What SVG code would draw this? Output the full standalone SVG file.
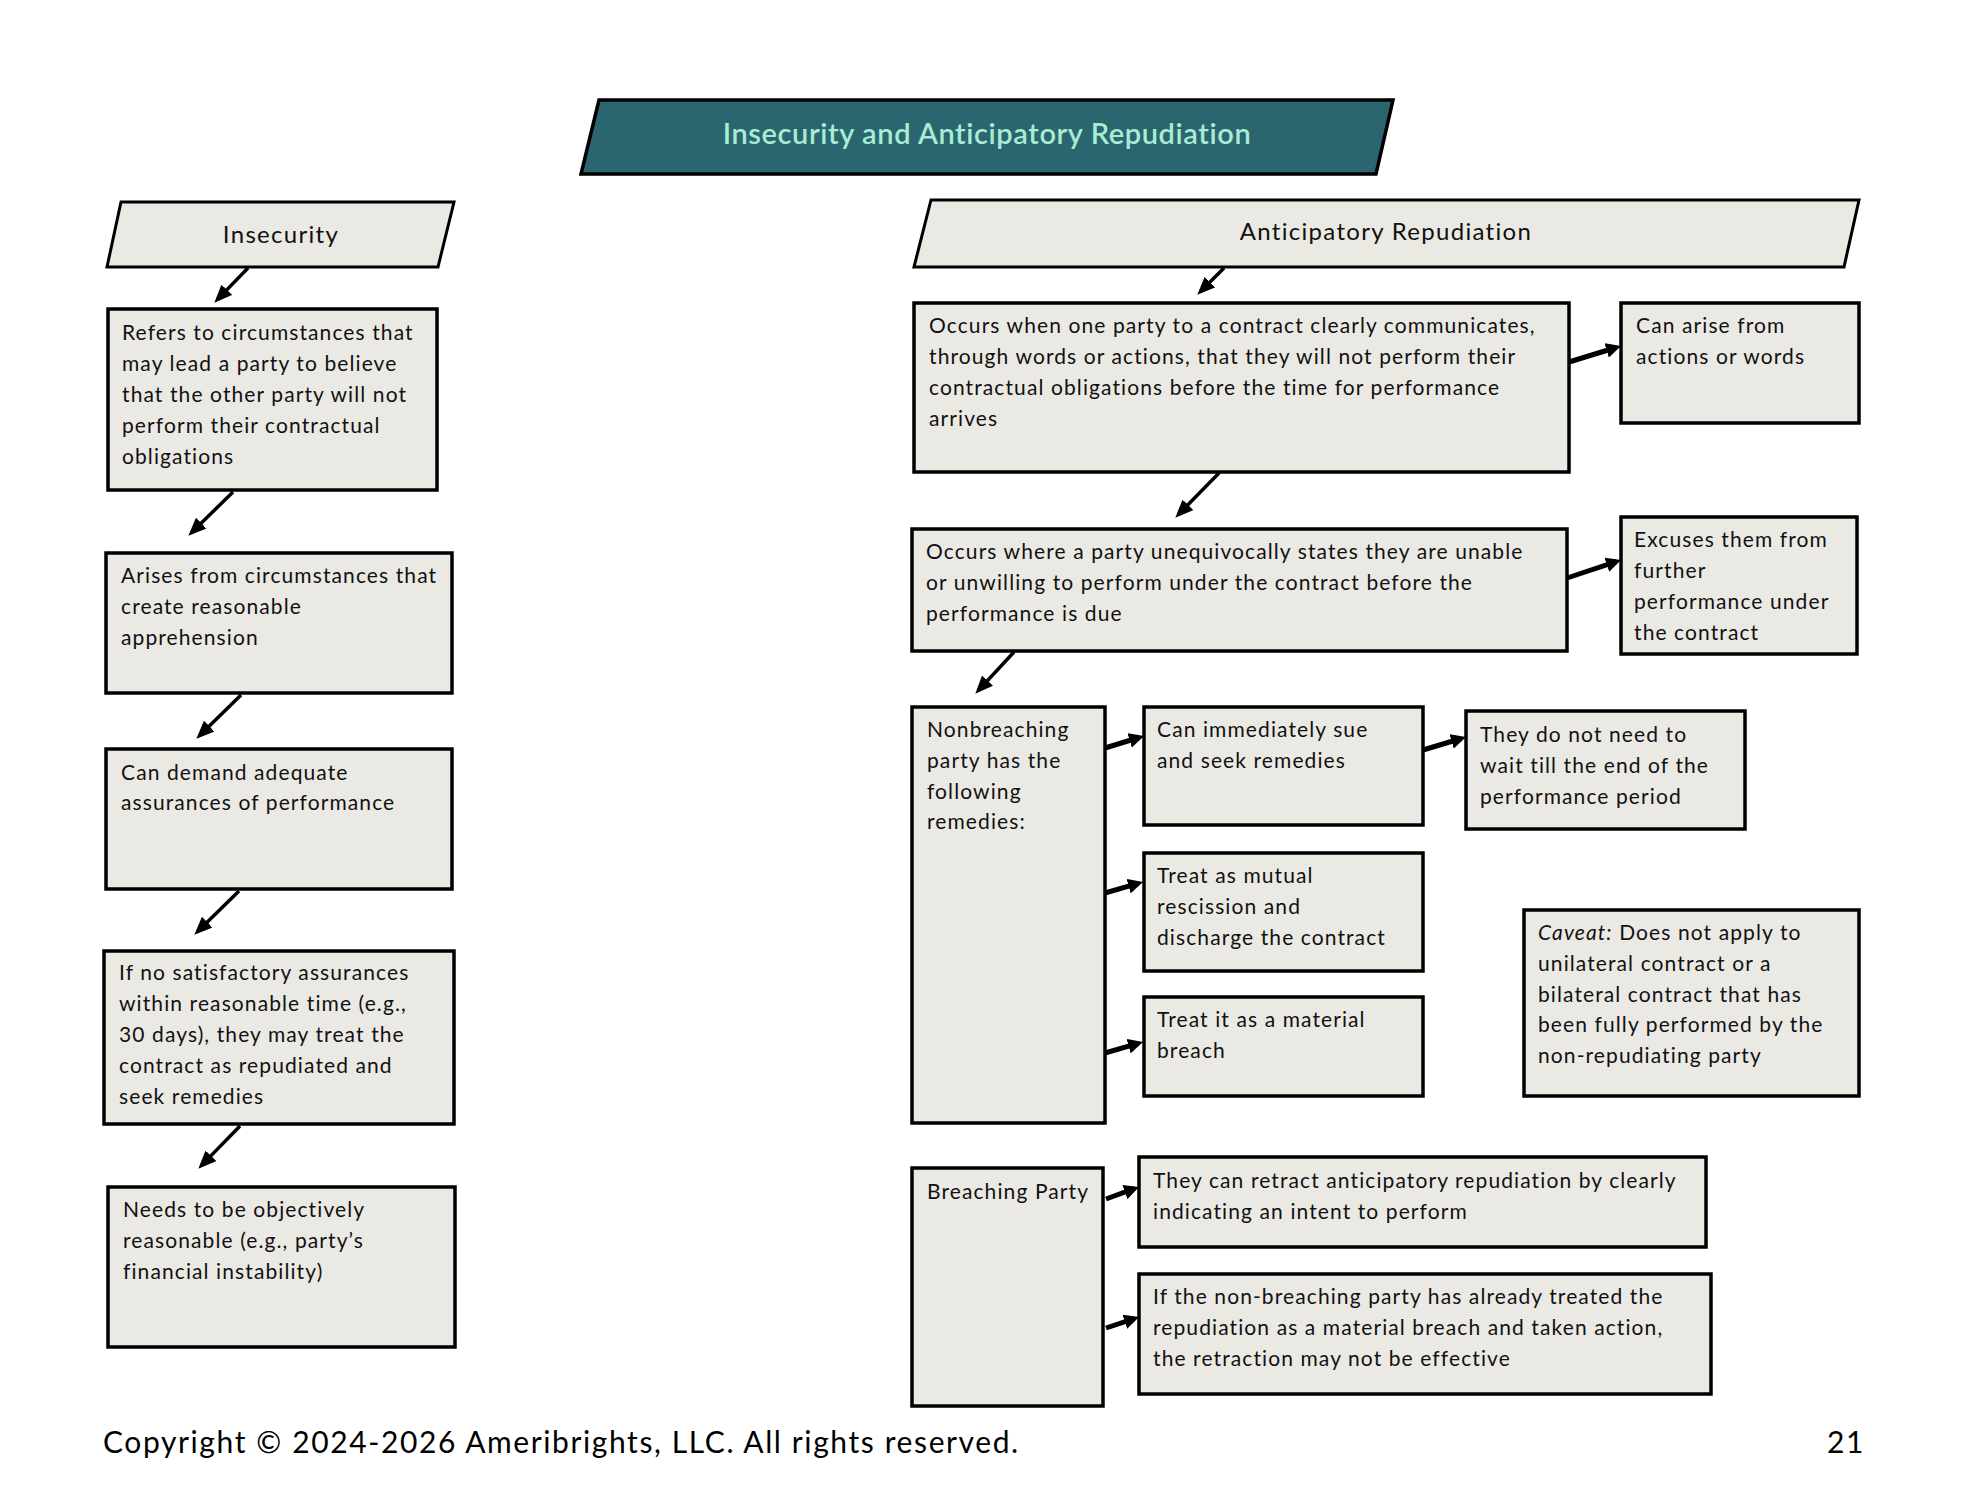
<svg xmlns="http://www.w3.org/2000/svg" width="1970" height="1502" viewBox="0 0 1970 1502">
<defs>
<style>
.box{fill:#ebe9e4;stroke:#000;stroke-width:3.5}
.hdr{fill:#ebe9e4;stroke:#000;stroke-width:3}
.t{font-family:Lato,"Liberation Sans",sans-serif;font-size:21px;letter-spacing:1.1px;fill:#111}
.h{font-family:Lato,"Liberation Sans",sans-serif;font-size:24px;letter-spacing:1.3px;fill:#111;text-anchor:middle}
.ttl{font-family:Lato,"Liberation Sans",sans-serif;font-size:29px;font-weight:600;letter-spacing:0.6px;fill:#a8ecd4;text-anchor:middle}
.ft{font-family:Lato,"Liberation Sans",sans-serif;font-size:30px;letter-spacing:1.6px;fill:#000}
.d{stroke:#000;stroke-width:3.5;fill:none;marker-end:url(#ad)}
.r{stroke:#000;stroke-width:5;fill:none;marker-end:url(#ar)}
</style>
<marker id="ad" markerUnits="userSpaceOnUse" markerWidth="18" markerHeight="15" refX="13" refY="7.5" orient="auto" viewBox="0 0 18 15"><path d="M0,0 L18,7.5 L0,15 z" fill="#000"/></marker>
<marker id="ar" markerUnits="userSpaceOnUse" markerWidth="15" markerHeight="15" refX="10" refY="7.5" orient="auto" viewBox="0 0 15 15"><path d="M0,0 L15,7.5 L0,15 z" fill="#000"/></marker>
</defs>
<rect width="1970" height="1502" fill="#fff"/>

<g id="title">
<polygon points="599,100 1393,100 1376,174 581,174" fill="#2b6570" stroke="#000" stroke-width="3.5"/>
<text class="ttl" x="987" y="144">Insecurity and Anticipatory Repudiation</text>
</g>

<g id="insecurity">
<polygon class="hdr" points="121,202 454,202 438,267 107,267"/>
<text class="h" x="281" y="243">Insecurity</text>
</g>

<g id="ins1">
<rect class="box" x="108" y="309" width="329" height="181"/>
<text class="t"><tspan x="122" y="340">Refers to circumstances that</tspan><tspan x="122" y="371">may lead a party to believe</tspan><tspan x="122" y="402">that the other party will not</tspan><tspan x="122" y="433">perform their contractual</tspan><tspan x="122" y="464">obligations</tspan></text>
</g>

<g id="ins2">
<rect class="box" x="106" y="553" width="346" height="140"/>
<text class="t"><tspan x="121" y="583">Arises from circumstances that</tspan><tspan x="121" y="614">create reasonable</tspan><tspan x="121" y="645">apprehension</tspan></text>
</g>

<g id="ins3">
<rect class="box" x="106" y="749" width="346" height="140"/>
<text class="t"><tspan x="121" y="780">Can demand adequate</tspan><tspan x="121" y="810">assurances of performance</tspan></text>
</g>

<g id="ins4">
<rect class="box" x="104" y="951" width="350" height="173"/>
<text class="t"><tspan x="119" y="980">If no satisfactory assurances</tspan><tspan x="119" y="1011">within reasonable time (e.g.,</tspan><tspan x="119" y="1042">30 days), they may treat the</tspan><tspan x="119" y="1073">contract as repudiated and</tspan><tspan x="119" y="1104">seek remedies</tspan></text>
</g>

<g id="ins5">
<rect class="box" x="108" y="1187" width="347" height="160"/>
<text class="t"><tspan x="123" y="1217">Needs to be objectively</tspan><tspan x="123" y="1248">reasonable (e.g., party’s</tspan><tspan x="123" y="1279">financial instability)</tspan></text>
</g>

<g id="anticipatory">
<polygon class="hdr" points="931,200 1859,200 1844,267 914,267"/>
<text class="h" x="1386" y="240">Anticipatory Repudiation</text>
</g>

<g id="ar1">
<rect class="box" x="914" y="303" width="655" height="169"/>
<text class="t"><tspan x="929" y="333">Occurs when one party to a contract clearly communicates,</tspan><tspan x="929" y="364">through words or actions, that they will not perform their</tspan><tspan x="929" y="395">contractual obligations before the time for performance</tspan><tspan x="929" y="426">arrives</tspan></text>
</g>

<g id="ar1b">
<rect class="box" x="1621" y="303" width="238" height="120"/>
<text class="t"><tspan x="1636" y="333">Can arise from</tspan><tspan x="1636" y="364">actions or words</tspan></text>
</g>

<g id="ar2">
<rect class="box" x="912" y="529" width="655" height="122"/>
<text class="t"><tspan x="926" y="559">Occurs where a party unequivocally states they are unable</tspan><tspan x="926" y="590">or unwilling to perform under the contract before the</tspan><tspan x="926" y="621">performance is due</tspan></text>
</g>

<g id="ar2b">
<rect class="box" x="1621" y="517" width="236" height="137"/>
<text class="t"><tspan x="1634" y="547">Excuses them from</tspan><tspan x="1634" y="578">further</tspan><tspan x="1634" y="609">performance under</tspan><tspan x="1634" y="640">the contract</tspan></text>
</g>

<g id="nonbreaching">
<rect class="box" x="912" y="707" width="193" height="416"/>
<text class="t"><tspan x="927" y="737">Nonbreaching</tspan><tspan x="927" y="768">party has the</tspan><tspan x="927" y="799">following</tspan><tspan x="927" y="829">remedies:</tspan></text>
</g>

<g id="sue">
<rect class="box" x="1144" y="707" width="279" height="118"/>
<text class="t"><tspan x="1157" y="737">Can immediately sue</tspan><tspan x="1157" y="768">and seek remedies</tspan></text>
</g>

<g id="wait">
<rect class="box" x="1466" y="711" width="279" height="118"/>
<text class="t"><tspan x="1480" y="742">They do not need to</tspan><tspan x="1480" y="773">wait till the end of the</tspan><tspan x="1480" y="804">performance period</tspan></text>
</g>

<g id="rescission">
<rect class="box" x="1144" y="853" width="279" height="118"/>
<text class="t"><tspan x="1157" y="883">Treat as mutual</tspan><tspan x="1157" y="914">rescission and</tspan><tspan x="1157" y="945">discharge the contract</tspan></text>
</g>

<g id="material">
<rect class="box" x="1144" y="997" width="279" height="99"/>
<text class="t"><tspan x="1157" y="1027">Treat it as a material</tspan><tspan x="1157" y="1058">breach</tspan></text>
</g>

<g id="caveat">
<rect class="box" x="1524" y="910" width="335" height="186"/>
<text class="t"><tspan x="1538" y="940"><tspan font-style="italic">Caveat:</tspan> Does not apply to</tspan><tspan x="1538" y="971">unilateral contract or a</tspan><tspan x="1538" y="1002">bilateral contract that has</tspan><tspan x="1538" y="1032">been fully performed by the</tspan><tspan x="1538" y="1063">non-repudiating party</tspan></text>
</g>

<g id="breaching">
<rect class="box" x="912" y="1168" width="191" height="238"/>
<text class="t"><tspan x="927" y="1199">Breaching Party</tspan></text>
</g>

<g id="retract">
<rect class="box" x="1139" y="1157" width="567" height="90"/>
<text class="t"><tspan x="1153" y="1188">They can retract anticipatory repudiation by clearly</tspan><tspan x="1153" y="1219">indicating an intent to perform</tspan></text>
</g>

<g id="ineffective">
<rect class="box" x="1139" y="1274" width="572" height="120"/>
<text class="t"><tspan x="1153" y="1304">If the non-breaching party has already treated the</tspan><tspan x="1153" y="1335">repudiation as a material breach and taken action,</tspan><tspan x="1153" y="1366">the retraction may not be effective</tspan></text>
</g>

<g id="connectors">
<line class="d" x1="248" y1="268" x2="217.8" y2="299.1"/>
<line class="d" x1="233" y1="492" x2="191.9" y2="532.2"/>
<line class="d" x1="241" y1="695" x2="199.9" y2="735.2"/>
<line class="d" x1="239" y1="891" x2="197.9" y2="931.2"/>
<line class="d" x1="240" y1="1126" x2="201.8" y2="1165.1"/>
<line class="d" x1="1224" y1="268" x2="1200.8" y2="291.2"/>
<line class="d" x1="1219" y1="473" x2="1178.8" y2="514.1"/>
<line class="d" x1="1014" y1="652" x2="978.7" y2="690.1"/>
<line class="r" x1="1569" y1="362" x2="1616.2" y2="347.5"/>
<line class="r" x1="1567" y1="578" x2="1616.3" y2="561.6"/>
<line class="r" x1="1105" y1="748" x2="1139.2" y2="737.5"/>
<line class="r" x1="1423" y1="750" x2="1461.2" y2="738.5"/>
<line class="r" x1="1105" y1="893" x2="1138.2" y2="883.4"/>
<line class="r" x1="1105" y1="1053" x2="1138.2" y2="1043.4"/>
<line class="r" x1="1106" y1="1199" x2="1134.3" y2="1188.7"/>
<line class="r" x1="1106" y1="1328" x2="1134.3" y2="1318.6"/>
</g>

<g id="footer">
<text class="ft" x="103" y="1453">Copyright © 2024-2026 Ameribrights, LLC. All rights reserved.</text>
<text class="ft" x="1865" y="1453" text-anchor="end">21</text>
</g>
</svg>
